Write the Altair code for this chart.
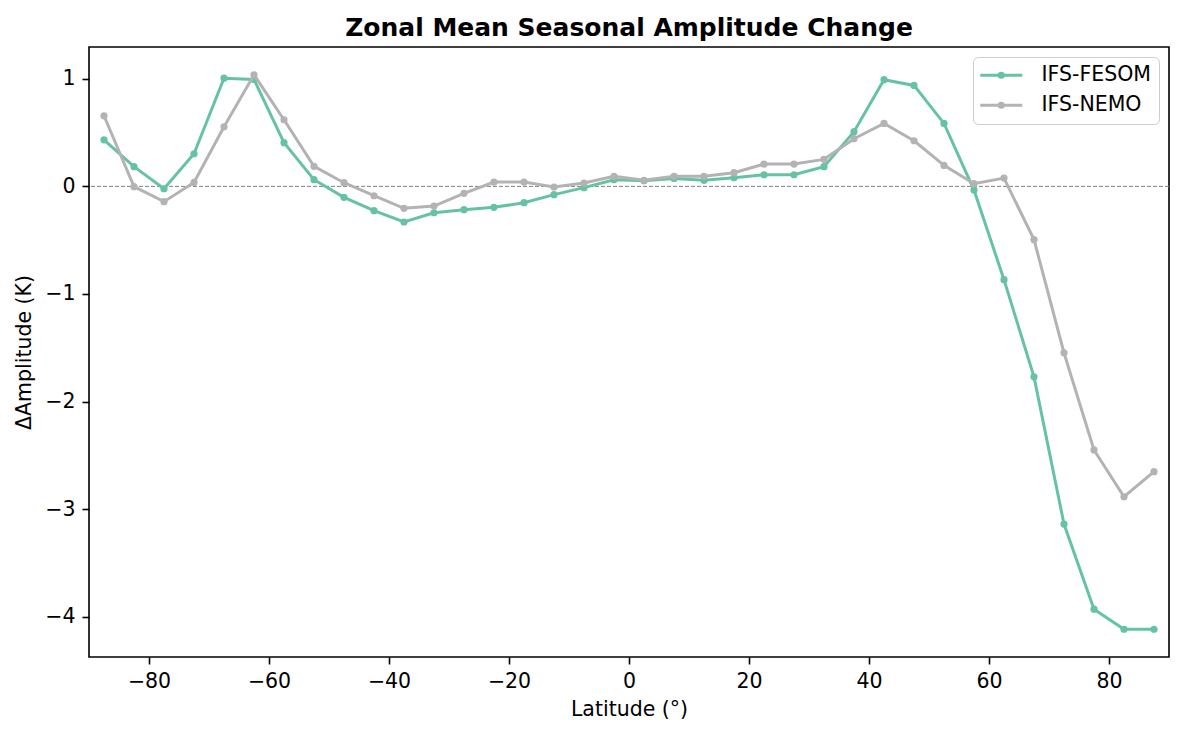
import altair as alt
import pandas as pd

lat = [-87.5, -82.5, -77.5, -72.5, -67.5, -62.5, -57.5, -52.5, -47.5, -42.5, -37.5, -32.5,
       -27.5, -22.5, -17.5, -12.5, -7.5, -2.5, 2.5, 7.5, 12.5, 17.5, 22.5, 27.5,
       32.5, 37.5, 42.5, 47.5, 52.5, 57.5, 62.5, 67.5, 72.5, 77.5, 82.5, 87.5]

fesom = [0.433, 0.183, -0.022, 0.303, 1.005, 0.994, 0.406, 0.062, -0.102, -0.226, -0.331, -0.245,
         -0.217, -0.195, -0.152, -0.077, -0.012, 0.062, 0.053, 0.074, 0.056, 0.080, 0.108, 0.108,
         0.183, 0.508, 0.991, 0.938, 0.585, -0.034, -0.867, -1.770, -3.138, -3.929, -4.115, -4.115]

nemo = [0.656, -0.003, -0.142, 0.037, 0.554, 1.037, 0.619, 0.186, 0.034, -0.087, -0.204, -0.183,
        -0.065, 0.040, 0.040, -0.006, 0.031, 0.093, 0.056, 0.093, 0.093, 0.127, 0.207, 0.207,
        0.251, 0.443, 0.585, 0.424, 0.195, 0.025, 0.077, -0.495, -1.547, -2.449, -2.884, -2.651]

series = ["IFS-FESOM", "IFS-NEMO"]
colors = ["#66c2a5", "#b3b3b3"]
x_ticks = [-80, -60, -40, -20, 0, 20, 40, 60, 80]
y_ticks = [-4, -3, -2, -1, 0, 1]
zero = [0]

df = pd.DataFrame({
    "lat": lat + lat,
    "value": fesom + nemo,
    "model": [series[0]] * len(lat) + [series[1]] * len(lat),
})
zdf = pd.DataFrame({"y": zero})

FONT = "DejaVu Sans"
FS = 20.5

xscale = alt.Scale(domain=[-90, 90], nice=False, zero=False)
yscale = alt.Scale(domain=[-4.373, 1.295], nice=False, zero=False)

legend_path = ("M-4.2,0L4.2,0"
               "M0.42,0A0.42,0.42,0,1,1,-0.42,0A0.42,0.42,0,1,1,0.42,0Z")

color = alt.Color(
    "model:N",
    scale=alt.Scale(domain=series, range=colors),
    legend=alt.Legend(
        title=None,
        orient="none",
        legendX=884,
        legendY=10,
        symbolType=legend_path,
        symbolSize=100,
        symbolStrokeWidth=3,
        symbolOffset=10,
        labelOffset=30,
        labelFont=FONT,
        labelFontSize=FS,
        labelColor="black",
        padding=8,
        rowPadding=9,
        strokeColor="#cccccc",
        fillColor="rgba(255,255,255,0.8)",
        cornerRadius=5,
    ),
)

x_enc = alt.X(
    "lat:Q",
    scale=xscale,
    axis=alt.Axis(values=x_ticks, title="Latitude (°)", format="d"),
)
y_enc = alt.Y(
    "value:Q",
    scale=yscale,
    axis=alt.Axis(values=y_ticks, title="ΔAmplitude (K)", format="d"),
)

zero_rule = alt.Chart(zdf).mark_rule(
    color="#808080", strokeWidth=1, strokeDash=[4, 2]
).encode(y=alt.Y("y:Q", scale=yscale))

layers = [zero_rule]
for s in series:
    base = alt.Chart(df).transform_filter(alt.datum.model == s)
    layers.append(base.mark_line(strokeWidth=3).encode(x=x_enc, y=y_enc, color=color))
    layers.append(base.mark_point(filled=True, size=52, opacity=1).encode(x=x_enc, y=y_enc, color=color))

chart = alt.layer(*layers).properties(
    width=1080,
    height=610,
    title=alt.Title(
        "Zonal Mean Seasonal Amplitude Change",
        font=FONT,
        fontSize=25,
        fontWeight="bold",
        color="black",
        offset=6,
    ),
    autosize=alt.AutoSizeParams(type="none"),
    padding={"left": 81, "top": 39, "right": 7, "bottom": 69},
).configure_view(
    stroke="black", strokeWidth=1.6
).configure_axis(
    domain=False,
    grid=False,
    ticks=True,
    tickSize=7,
    tickWidth=1.6,
    tickColor="black",
    labelFont=FONT,
    labelFontSize=FS,
    labelColor="black",
    labelPadding=7,
    titleFont=FONT,
    titleFontSize=FS,
    titleFontWeight="normal",
    titleColor="black",
).configure_axisX(
    titlePadding=8,
).configure_axisY(
    titlePadding=10,
)

chart.save("out.html", embed_options={"renderer": "svg", "actions": False})
